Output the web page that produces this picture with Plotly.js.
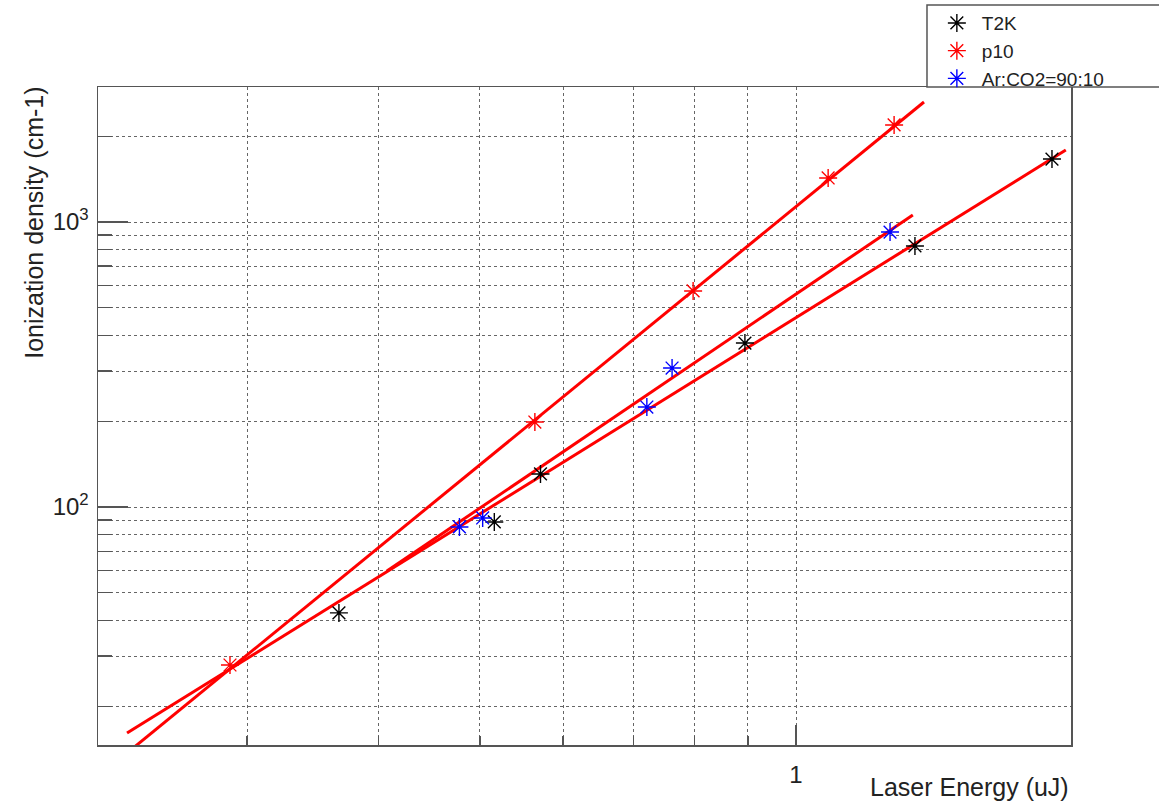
<!DOCTYPE html>
<html>
<head>
<meta charset="utf-8">
<script src="https://cdn.plot.ly/plotly-3.0.1.min.js"></script>
<style>
  html, body { margin: 0; padding: 0; background: #ffffff; }
  #chart { width: 1159px; height: 803px; }
</style>
</head>
<body>
<div id="chart"></div>
<script>
// Measured points: laser energy (uJ) against ionization density (cm-1)
const seriesNames = ['T2K', 'p10', 'Ar:CO2=90:10'];

const t2kEnergy  = [0.367, 0.516, 0.571, 0.894, 1.298, 1.753];
const t2kDensity = [42.5, 88.6, 130.6, 376, 824, 1663];

const p10Energy  = [0.289, 0.564, 0.798, 1.073, 1.240];
const p10Density = [27.9, 198.7, 573, 1427, 2190];

const arEnergy   = [0.478, 0.503, 0.721, 0.762, 1.229];
const arDensity  = [85.1, 91.5, 224.3, 307.4, 922];

// Power-law fits, each given by its two end points (straight on log-log axes)
const t2kFitEnergy  = [0.2306, 1.807];
const t2kFitDensity = [16.1, 1789];
const p10FitEnergy  = [0.2306, 1.324];
const p10FitDensity = [13.7, 2636];
const arFitEnergy   = [0.4077, 1.292];
const arFitDensity  = [59.6, 1058];

// Axis ticks
const xMajorTicks = [1];
const xMajorText  = ['1'];
const xMinorTicks = [0.3, 0.4, 0.5, 0.6, 0.7, 0.8, 0.9];
const yMajorTicks = [100, 1000];
const yMajorText  = ['10<sup>2</sup>', '10<sup>3</sup>'];
const yMinorTicks = [20, 30, 40, 50, 60, 70, 80, 90, 200, 300, 400, 500, 600, 700, 800, 900, 2000];

const markerColors = ['#000000', '#ff0000', '#0000ff'];
const fitColor = '#ff0000';
const font = 'Liberation Sans, Arial, sans-serif';

function points(x, y, i) {
  return {
    x: x, y: y, type: 'scatter', mode: 'markers', name: seriesNames[i],
    marker: { symbol: 'asterisk-open', size: 15, color: markerColors[i],
              line: { color: markerColors[i], width: 1.4 } }
  };
}
function fit(x, y) {
  return {
    x: x, y: y, type: 'scatter', mode: 'lines', showlegend: false,
    line: { color: fitColor, width: 3 }, hoverinfo: 'skip'
  };
}

const data = [
  fit(t2kFitEnergy, t2kFitDensity),
  fit(p10FitEnergy, p10FitDensity),
  fit(arFitEnergy, arFitDensity),
  points(t2kEnergy, t2kDensity, 0),
  points(p10Energy, p10Density, 1),
  points(arEnergy, arDensity, 2)
];

const gridStyle = { gridcolor: '#666666', gridwidth: 1, griddash: '3px,3px' };

const layout = {
  width: 1159, height: 803,
  margin: { l: 98, r: 88, t: 87, b: 58, autoexpand: false },
  paper_bgcolor: '#ffffff', plot_bgcolor: '#ffffff',
  font: { family: font, color: '#222222' },
  showlegend: true,
  xaxis: Object.assign({
    type: 'log', range: [-0.6648, 0.2619], automargin: false,
    tickmode: 'array', tickvals: xMajorTicks, ticktext: xMajorText,
    ticks: 'inside', ticklen: 20, tickwidth: 1.3, tickcolor: '#555555',
    tickfont: { size: 24, family: font, color: '#222222' },
    ticklabelstandoff: 8,
    showgrid: true, zeroline: false,
    showline: true, linecolor: '#555555', linewidth: 1.5, mirror: true,
    minor: Object.assign({ tickmode: 'array', tickvals: xMinorTicks, ticks: 'inside',
             ticklen: 9, tickwidth: 1.3, tickcolor: '#555555', showgrid: true }, gridStyle)
  }, gridStyle),
  yaxis: Object.assign({
    type: 'log', range: [1.1649, 3.4737], automargin: false,
    tickmode: 'array', tickvals: yMajorTicks, ticktext: yMajorText,
    ticks: 'inside', ticklen: 30, tickwidth: 1.3, tickcolor: '#555555',
    tickfont: { size: 24, family: font, color: '#222222' },
    ticklabelstandoff: 3,
    showgrid: true, zeroline: false,
    showline: true, linecolor: '#555555', linewidth: 1.5, mirror: true,
    minor: Object.assign({ tickmode: 'array', tickvals: yMinorTicks, ticks: 'inside',
             ticklen: 14, tickwidth: 1.3, tickcolor: '#555555', showgrid: true }, gridStyle)
  }, gridStyle),
  legend: {
    xref: 'paper', yref: 'paper',
    x: 0.857, y: 1.126, xanchor: 'left', yanchor: 'top',
    bgcolor: 'rgba(0,0,0,0)', borderwidth: 0,
    font: { size: 19, family: font, color: '#222222' },
    itemwidth: 40, tracegroupgap: 0
  },
  shapes: [{
    type: 'rect', xref: 'paper', yref: 'paper', layer: 'above',
    x0: 0.852, x1: 1.12, y0: 1.0, y1: 1.1246,
    fillcolor: '#ffffff', line: { color: '#555555', width: 1.5 }
  }],
  annotations: [
    { text: 'Laser Energy (uJ)', xref: 'paper', yref: 'paper', x: 1.0, y: -0.064,
      xanchor: 'right', yanchor: 'middle', showarrow: false,
      font: { size: 25, family: font, color: '#222222' } },
    { text: 'Ionization density (cm-1)', xref: 'paper', yref: 'paper', x: -0.066, y: 1.003,
      xanchor: 'center', yanchor: 'top', textangle: -90, showarrow: false,
      font: { size: 25, family: font, color: '#222222' } }
  ]
};

Plotly.newPlot('chart', data, layout, { displayModeBar: false, staticPlot: true });
</script>
</body>
</html>
